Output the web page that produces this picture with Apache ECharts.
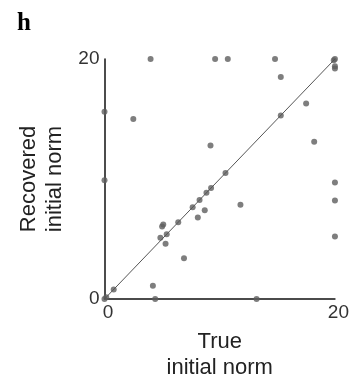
<!DOCTYPE html>
<html>
<head>
<meta charset="utf-8">
<script src="https://cdn.jsdelivr.net/npm/echarts@6/dist/echarts.min.js"></script>
<style>html,body{margin:0;padding:0;background:#fff}#c{width:352px;height:386px}</style>
</head>
<body>
<div id="c"></div>
<script>
const trueNorm = [0, 0.15, 0.8, 4.2, 4.4, 13.2, 0, 0, 2.5, 4.0, 9.6, 10.7, 14.8, 20, 19.9, 20, 20, 15.3, 17.5, 15.3, 18.2, 10.5, 9.2, 9.25, 8.85, 8.25, 7.65, 8.7, 8.1, 11.8, 20, 20, 20, 6.4, 5.1, 5.0, 5.4, 4.85, 5.3, 6.9];
const recoveredNorm = [0, 0.15, 0.8, 1.1, 0, 0, 9.9, 15.6, 15.0, 20, 20, 20, 20, 20, 19.9, 19.4, 19.2, 18.5, 16.3, 15.3, 13.1, 10.5, 12.8, 9.25, 8.85, 8.25, 7.65, 7.4, 6.8, 7.85, 9.7, 8.2, 5.2, 6.4, 6.2, 6.05, 5.4, 5.1, 4.6, 3.4];
const identityLine = [[0, 0], [20, 20]];
const axisMin = 0, axisMax = 20;

const chart = echarts.init(document.getElementById('c'), null, {renderer: 'canvas'});
const points = trueNorm.map((x, i) => [x, recoveredNorm[i]]);
const labelFont = 'Liberation Sans, Arial, sans-serif';
chart.setOption({
  animation: false,
  title: {
    text: 'h', left: 12, top: 6,
    textStyle: {fontFamily: 'Liberation Serif, Times New Roman, serif', fontWeight: 'bold', fontSize: 25, color: '#000'}
  },
  grid: {left: 104.5, right: 16, top: 59, bottom: 86.7, containLabel: false},
  xAxis: {
    type: 'value', min: axisMin, max: axisMax, interval: 20,
    name: 'True\ninitial norm', nameLocation: 'middle', nameGap: 30,
    nameTextStyle: {fontFamily: labelFont, fontSize: 22, color: '#222', lineHeight: 26},
    axisLine: {show: true, onZero: false, lineStyle: {color: '#111', width: 1.5}},
    axisTick: {show: false}, splitLine: {show: false},
    axisLabel: {fontFamily: labelFont, fontSize: 19, color: '#333', margin: 4, padding: [0, 0, 0, 7]}
  },
  yAxis: {
    type: 'value', min: axisMin, max: axisMax, interval: 20,
    name: 'Recovered\ninitial norm', nameLocation: 'middle', nameGap: 35, nameRotate: 90,
    nameTextStyle: {fontFamily: labelFont, fontSize: 22, color: '#222', lineHeight: 26},
    axisLine: {show: true, onZero: false, lineStyle: {color: '#111', width: 1.5}},
    axisTick: {show: false}, splitLine: {show: false},
    axisLabel: {fontFamily: labelFont, fontSize: 19, color: '#333', margin: 5}
  },
  series: [
    {
      type: 'scatter', data: points, symbolSize: 6, clip: false, z: 2,
      itemStyle: {color: '#5e5e5e'}
    },
    {
      type: 'line', data: identityLine, symbol: 'none', z: 3, silent: true,
      lineStyle: {color: '#555', width: 1}
    }
  ]
});
</script>
</body>
</html>
